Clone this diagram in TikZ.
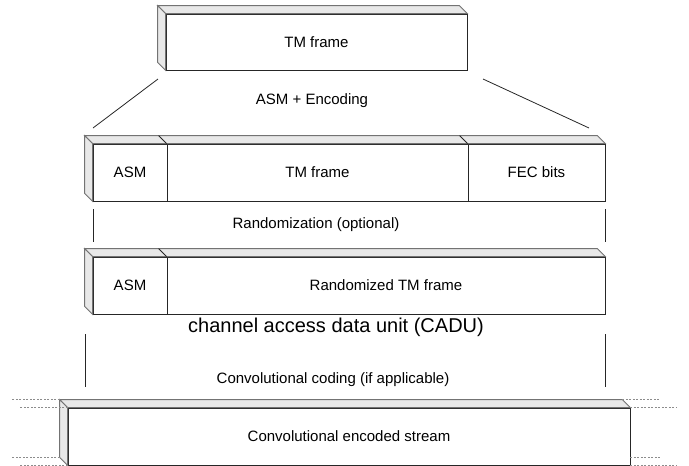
\documentclass[tikz,border=0pt]{standalone}
\usepackage{fontspec}
\setmainfont{Liberation Sans}

\tikzset{
    frame/.style={draw=black!85, fill=white, minimum height=57pt, inner sep=0pt, font=\fontsize{15}{18}\selectfont},
    face/.style={draw=black!55, fill=black!9},
    link/.style={draw=black!85},
    guide/.style={draw=black!45, dash pattern=on 2pt off 1.5pt},
    caption/.style={font=\fontsize{15}{18}\selectfont}
}

% top and left faces of a slab, from left node #1 to right node #2
\newcommand{\slab}[2]{%
    \filldraw[face] (#1.north west) -- ++(-8pt,8pt) -- ([shift={(-8pt,8pt)}]#2.north east) -- (#2.north east) -- cycle;
    \filldraw[face] (#1.north west) -- ++(-8pt,8pt) -- ([shift={(-8pt,8pt)}]#1.south west) -- (#1.south west) -- cycle;
}
% edge between two neighbouring parts of a slab
\newcommand{\cut}[1]{%
    \draw[link] ([shift={(-8pt,8pt)}]#1.north west) -- (#1.north west);
}

\begin{document}
\begin{tikzpicture}[x=1pt,y=-1pt,line width=0.8pt]

    \useasboundingbox (0,0) rectangle (689,466);

    %%%%%%%%%%%%%%%%%%%%%%%%%%%%%%%%%%%%%%%%%%%%%%%%%%%%%%

    % transfer frame
    \node[frame, minimum width=301pt, minimum height=56pt] (tmTop) at (316.5,42) {TM frame};
    \slab{tmTop}{tmTop}

    % ASM + encoding step
    \node[caption] (encTxt) at (312,101) {ASM + Encoding};
    \coordinate (encL1) at (158,79);
    \coordinate (encL2) at (93,128);
    \coordinate (encR1) at (483,79);
    \coordinate (encR2) at (589,128);
    \draw[link] (encL1) -- (encL2);
    \draw[link] (encR1) -- (encR2);

    %%%%%%%%%%%%%%%%%%%%%%%%%%%%%%%%%%%%%%%%%%%%%%%%%%%%%%

    % encoded frame
    \node[frame, minimum width=74pt] (asmA) at (130,172.5) {ASM};
    \node[frame, minimum width=301pt] (tmA) at (317.5,172.5) {TM frame};
    \node[frame, minimum width=137pt] (fecA) at (536.5,172.5) {FEC bits};
    \slab{asmA}{fecA}
    \cut{tmA}
    \cut{fecA}

    % randomization step
    \node[caption] (rndTxt) at (316,225) {Randomization (optional)};
    \coordinate (rndL1) at (93,209);
    \coordinate (rndL2) at (93,242);
    \coordinate (rndR1) at (605,209);
    \coordinate (rndR2) at (605,242);
    \draw[link] (rndL1) -- (rndL2);
    \draw[link] (rndR1) -- (rndR2);

    %%%%%%%%%%%%%%%%%%%%%%%%%%%%%%%%%%%%%%%%%%%%%%%%%%%%%%

    % randomized frame
    \node[frame, minimum width=74pt] (asmB) at (130,285.5) {ASM};
    \node[frame, minimum width=438pt] (rndB) at (386,285.5) {Randomized TM frame};
    \slab{asmB}{rndB}
    \cut{rndB}

    % CADU
    \node[font=\fontsize{20}{24}\selectfont] (caduTxt) at (336,327) {channel access data unit (CADU)};

    % convolutional coding step
    \node[caption] (cnvTxt) at (333,380) {Convolutional coding (if applicable)};
    \coordinate (cnvL1) at (85,334);
    \coordinate (cnvL2) at (85,387);
    \coordinate (cnvR1) at (605,334);
    \coordinate (cnvR2) at (605,387);
    \draw[link] (cnvL1) -- (cnvL2);
    \draw[link] (cnvR1) -- (cnvR2);

    %%%%%%%%%%%%%%%%%%%%%%%%%%%%%%%%%%%%%%%%%%%%%%%%%%%%%%

    % encoded stream
    \node[frame, minimum width=562pt] (cvs) at (349,436.5) {Convolutional encoded stream};
    \slab{cvs}{cvs}

    % stream goes on at both ends
    \draw[guide] ([shift={(-8pt,8pt)}]cvs.north west) -- ++(-48pt,0pt);
    \draw[guide] (cvs.north west) -- ++(-48pt,0pt);
    \draw[guide] ([shift={(-8pt,8pt)}]cvs.south west) -- ++(-48pt,0pt);
    \draw[guide] (cvs.south west) -- ++(-48pt,0pt);
    \draw[guide] ([shift={(-8pt,8pt)}]cvs.north east) -- ++(38pt,0pt);
    \draw[guide] (cvs.north east) -- ++(47pt,0pt);
    \draw[guide] ([yshift=8pt]cvs.south east) -- ++(30pt,0pt);
    \draw[guide] (cvs.south east) -- ++(47pt,0pt);

\end{tikzpicture}
\end{document}
